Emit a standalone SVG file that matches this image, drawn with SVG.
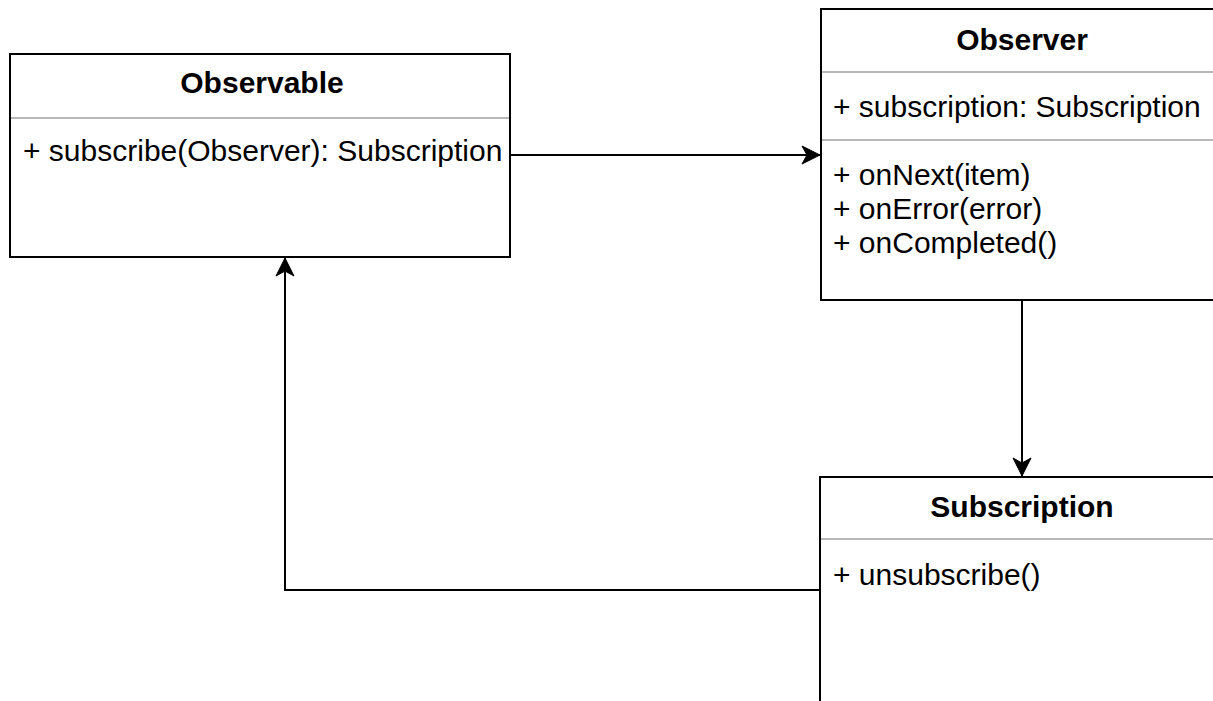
<svg xmlns="http://www.w3.org/2000/svg" width="1213" height="701" viewBox="0 0 1213 701">
<style>
.box{fill:#ffffff;stroke:#000000;stroke-width:2}
.div{stroke:#a0a0a0;stroke-width:1.5;fill:none}
.title{font-family:"Liberation Sans",Arial,sans-serif;font-size:30px;font-weight:bold;fill:#000;text-anchor:middle}
.mem{font-family:"Liberation Sans",Arial,sans-serif;font-size:30px;fill:#000}
.conn{fill:none;stroke:#000;stroke-width:2}
</style>
<defs>
<marker id="arr" markerUnits="userSpaceOnUse" markerWidth="24" markerHeight="24" viewBox="-21 -12 24 24" refX="0" refY="0" orient="auto">
<path d="M0,0 L-18,-9 L-13,0 L-18,9 Z" fill="#000" stroke="#000" stroke-width="1" stroke-linejoin="miter"/>
</marker>
</defs>
<rect width="1213" height="701" fill="#ffffff"/>
<g id="connectors">
<path class="conn" d="M510,155 L820,155" marker-end="url(#arr)"/>
<path class="conn" d="M1022,300 L1022,476" marker-end="url(#arr)"/>
<path class="conn" d="M820,590 L285,590 L285,258" marker-end="url(#arr)"/>
</g>
<g id="observable">
<rect class="box" x="10" y="54" width="500" height="203"/>
<line class="div" x1="11" y1="118" x2="509" y2="118"/>
<text class="title" x="262" y="93">Observable</text>
<text class="mem" x="23" y="161">+ subscribe(Observer): Subscription</text>
</g>
<g id="observer">
<rect class="box" x="821" y="9" width="402" height="291"/>
<line class="div" x1="822" y1="72" x2="1223" y2="72"/>
<line class="div" x1="822" y1="140" x2="1223" y2="140"/>
<text class="title" x="1022" y="50">Observer</text>
<text class="mem" x="833" y="117">+ subscription: Subscription</text>
<text class="mem" x="833" y="185">+ onNext(item)</text>
<text class="mem" x="833" y="219">+ onError(error)</text>
<text class="mem" x="833" y="253">+ onCompleted()</text>
</g>
<g id="subscription">
<rect class="box" x="820" y="477" width="403" height="250"/>
<line class="div" x1="821" y1="539" x2="1223" y2="539"/>
<text class="title" x="1022" y="517">Subscription</text>
<text class="mem" x="833" y="585">+ unsubscribe()</text>
</g>
</svg>
